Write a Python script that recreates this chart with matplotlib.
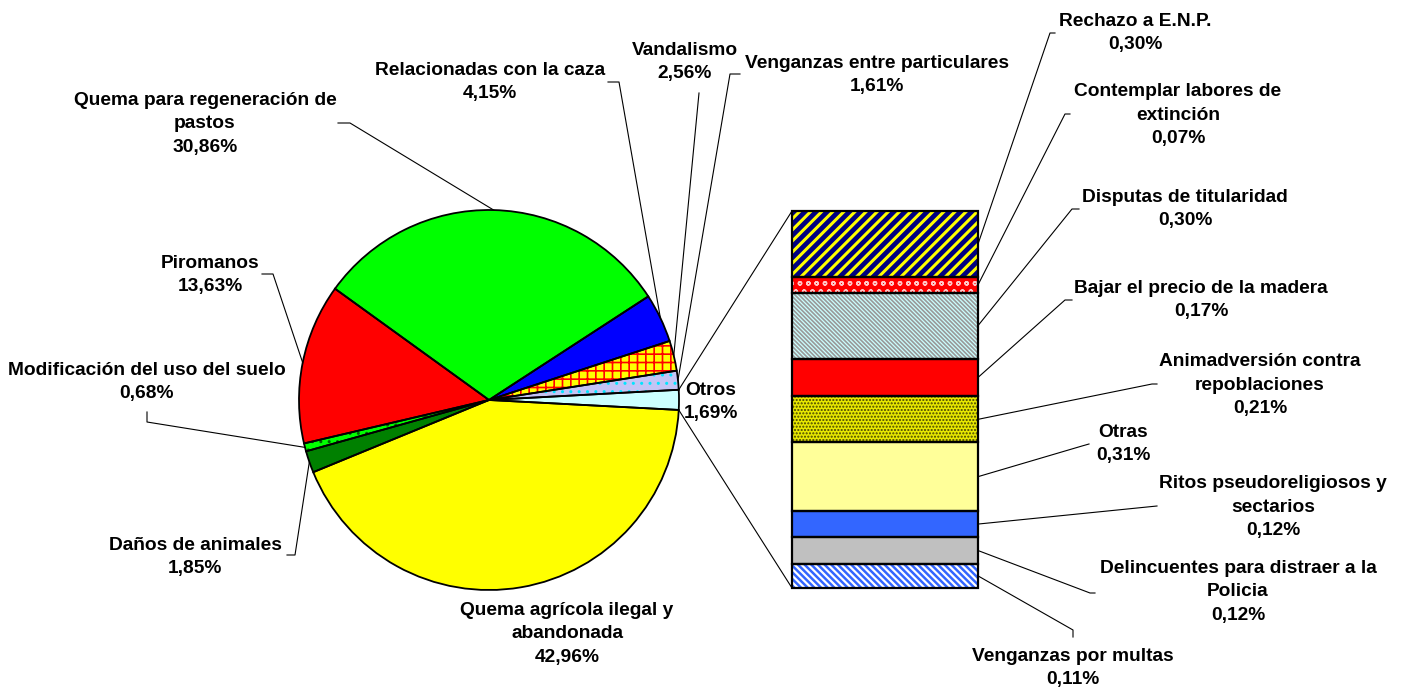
import matplotlib
matplotlib.use('Agg')
import matplotlib.pyplot as plt
import numpy as np

plt.rcParams['font.family'] = ['Liberation Sans', 'DejaVu Sans']
plt.rcParams['font.weight'] = 'bold'

# --- datos del sector (orden antihorario desde "Otros") ---
pie_names = ['Otros', 'Venganzas entre particulares', 'Vandalismo',
             'Relacionadas con la caza', 'Quema para regeneración de\npastos',
             'Piromanos', 'Modificación del uso del suelo', 'Daños de animales',
             'Quema agrícola ilegal y\nabandonada']
pie_vals = [1.69, 1.61, 2.56, 4.15, 30.86, 13.63, 0.68, 1.85, 42.96]

# --- desglose de "Otros" (de abajo hacia arriba) ---
bar_names = ['Venganzas por multas', 'Delincuentes para distraer a la\nPolicia',
             'Ritos pseudoreligiosos y\nsectarios', 'Otras',
             'Animadversión contra\nrepoblaciones', 'Bajar el precio de la madera',
             'Disputas de titularidad', 'Contemplar labores de\nextinción',
             'Rechazo a E.N.P.']
bar_vals = [0.11, 0.12, 0.12, 0.31, 0.21, 0.17, 0.30, 0.07, 0.30]

# estilos: (relleno, trama, color de trama, grosor trama)
pie_style = [('#CCFFFF', None, None, 0),
             ('#C4C4F4', '..', '#00E5FF', 1.0),
             ('#FFFF00', '++', '#FF0000', 1.2),
             ('#0000FF', None, None, 0),
             ('#00FF00', None, None, 0),
             ('#FF0000', None, None, 0),
             ('#00FF00', '..', '#006400', 1.0),
             ('#008000', None, None, 0),
             ('#FFFF00', None, None, 0)]
bar_style = [('#FFFFFF', '\\\\\\\\\\', '#3366FF', 1.8),
             ('#C0C0C0', None, None, 0),
             ('#3366FF', None, None, 0),
             ('#FFFF99', None, None, 0),
             ('#E8E800', '.....', '#444400', 1.0),
             ('#FF0000', None, None, 0),
             ('#CCFFFF', '\\\\\\\\\\\\\\\\', '#999999', 1.2),
             ('#FF0000', 'oo', '#FFC8C8', 1.0),
             ('#000080', '///', '#FFFF00', 2.2)]

W, H = 1407, 692


def P(px, py):
    # coordenadas de píxel (origen arriba-izquierda) -> datos
    return px, H - py


def pct(v):
    return f'{v:.2f}'.replace('.', ',') + '%'


fig = plt.figure(figsize=(W / 100, H / 100), dpi=100)
ax = fig.add_axes([0, 0, 1, 1])

center = P(489, 400)
R = 190
wedges, _ = ax.pie(pie_vals, startangle=-3, counterclock=True, radius=R,
                   center=center, colors=[s[0] for s in pie_style],
                   wedgeprops=dict(linewidth=0))
for w, (fc, hatch, hc, hlw) in zip(wedges, pie_style):
    if hatch:
        w.set_hatch(hatch)
        w.set_edgecolor(hc)
        if hasattr(w, 'set_hatch_linewidth'):
            w.set_hatch_linewidth(hlw)
ax.pie(pie_vals, startangle=-3, counterclock=True, radius=R, center=center,
       colors=['none'] * len(pie_vals),
       wedgeprops=dict(linewidth=1.3, edgecolor='black', fill=False))

# barra apilada
bx, bw = 885, 186
bar_bottom = H - 588
scale = 377 / sum(bar_vals)
heights = np.array(bar_vals) * scale
bottoms = bar_bottom + np.concatenate([[0], np.cumsum(heights)[:-1]])
rects = ax.bar(bx, heights, width=bw, bottom=bottoms,
               color=[s[0] for s in bar_style], linewidth=0)
for r, (fc, hatch, hc, hlw) in zip(rects, bar_style):
    if hatch:
        r.set_hatch(hatch)
        r.set_edgecolor(hc)
        if hasattr(r, 'set_hatch_linewidth'):
            r.set_hatch_linewidth(hlw)
ax.bar(bx, heights, width=bw, bottom=bottoms, fill=False,
       edgecolor='black', linewidth=1.6)

# líneas de unión sector "Otros" -> barra
w0 = wedges[0]
for ang, by in [(w0.theta2, bottoms[-1] + heights[-1]), (w0.theta1, bottoms[0])]:
    a = np.deg2rad(ang)
    ax.plot([center[0] + R * np.cos(a), bx - bw / 2],
            [center[1] + R * np.sin(a), by], color='black', lw=0.8)

fs = 13.8
txt = dict(fontsize=fs, fontweight='bold', ha='center', va='center',
           multialignment='center', linespacing=1.52)

# etiquetas del sector: posición del texto y codo de la línea guía
pie_lab = [((684, 402), None),
           ((877, 75), [(740, 74), (730, 74)]),
           ((685, 62), [(699, 93)]),
           ((490, 82), [(608, 82), (619, 82)]),
           ((205, 124), [(338, 123), (350, 123)]),
           ((210, 275), [(262, 274), (273, 274)]),
           ((147, 382), [(147, 412), (147, 422)]),
           ((195, 557), [(287, 555), (295, 555)]),
           ((567, 634), None)]
for w, name, v, (tp, path) in zip(wedges, pie_names, pie_vals, pie_lab):
    kw = dict(txt)
    if path is None and name == 'Otros':
        kw['ha'] = 'left'
    ax.text(*P(*tp), f'{name}\n{pct(v)}', **kw)
    if path:
        a = np.deg2rad((w.theta1 + w.theta2) / 2)
        xs = [P(*p)[0] for p in path] + [center[0] + R * np.cos(a)]
        ys = [P(*p)[1] for p in path] + [center[1] + R * np.sin(a)]
        ax.plot(xs, ys, color='black', lw=0.8)

bar_lab = [((1073, 668), [(1073, 637), (1073, 630)]),
           ((1238, 592), [(1095, 593), (1090, 593)]),
           ((1273, 507), [(1157, 506)]),
           ((1123, 444), [(1089, 444), (1082, 446)]),
           ((1260, 385), [(1157, 384), (1152, 384)]),
           ((1201, 300), [(1072, 300), (1065, 300)]),
           ((1185, 209), [(1079, 209), (1072, 209)]),
           ((1178, 115), [(1070, 114), (1065, 114)]),
           ((1135, 33), [(1055, 33), (1050, 33)])]
for name, v, h, b, (tp, path) in zip(bar_names, bar_vals, heights, bottoms, bar_lab):
    ax.text(*P(*tp), f'{name}\n{pct(v)}', **txt)
    xs = [P(*p)[0] for p in path] + [bx + bw / 2]
    ys = [P(*p)[1] for p in path] + [b + h / 2]
    ax.plot(xs, ys, color='black', lw=0.8)

ax.set_xlim(0, W)
ax.set_ylim(0, H)
ax.set_aspect('equal')
ax.axis('off')

fig.savefig('out.png', dpi=100)
